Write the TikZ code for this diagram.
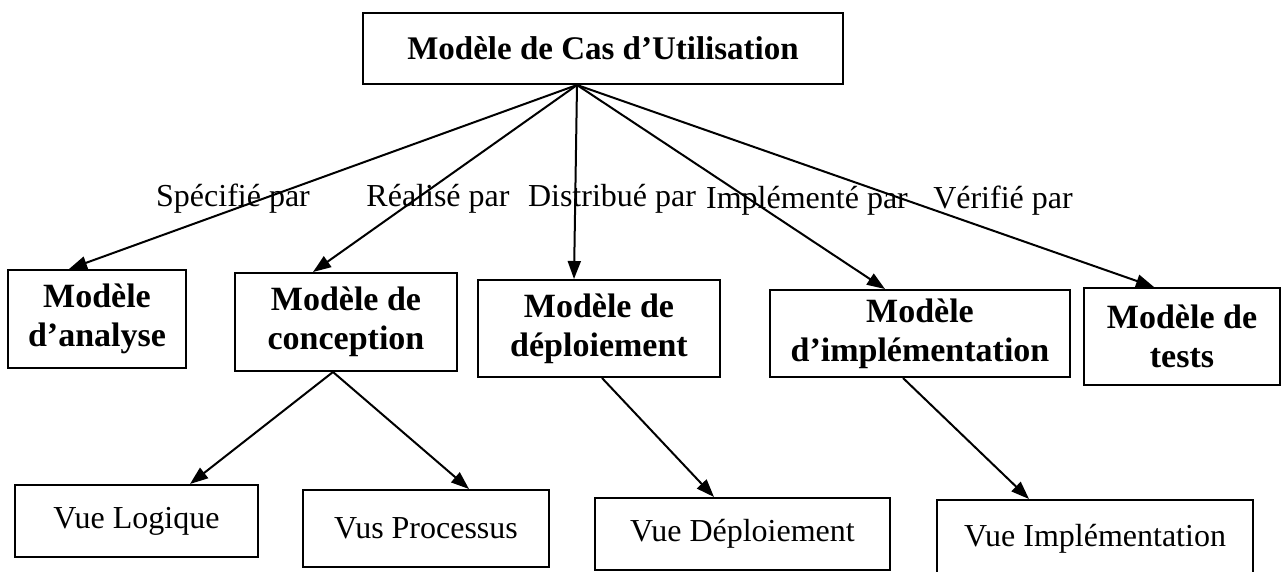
\documentclass[tikz,border=0pt]{standalone}
\usepackage{fontspec}
\setmainfont{Liberation Serif}
\usetikzlibrary{arrows.meta}
\tikzset{
  box/.style={draw, line width=2pt, align=center, inner sep=0pt},
  topbox/.style={box, font=\fontsize{33}{36}\selectfont\bfseries},
  modelbox/.style={box, font=\fontsize{34}{39}\selectfont\bfseries},
  viewbox/.style={box, font=\fontsize{32}{36}\selectfont},
  link/.style={line width=2pt, -{Triangle[length=18pt,width=13pt]}},
  lbl/.style={font=\fontsize{32}{36}\selectfont, inner sep=0pt, anchor=base},
}
\begin{document}
\begin{tikzpicture}[x=1pt,y=-1pt]
\useasboundingbox (0,0) rectangle (1284,572);

% root
\node[topbox, minimum width=480pt, minimum height=71pt] (uc) at (603,48.5) {Modèle de Cas d'Utilisation};
\coordinate (apex) at (uc.south -| 577,0);

% models
\node[modelbox, minimum width=178pt, minimum height=98pt] (an) at (97,319) {Modèle\\d'analyse};
\node[modelbox, minimum width=222pt, minimum height=98pt] (co) at (346,322) {Modèle de\\conception};
\node[modelbox, minimum width=242pt, minimum height=97pt] (de) at (599,328.5) {Modèle de\\déploiement};
\node[modelbox, minimum width=300pt, minimum height=87pt] (im) at (920,333.5) {Modèle\\d'implémentation};
\node[modelbox, minimum width=196pt, minimum height=97pt] (te) at (1182,336.5) {Modèle de\\tests};

% views
\node[viewbox, minimum width=243pt, minimum height=72pt] (vl) at (136.5,521) {Vue Logique};
\node[viewbox, minimum width=246pt, minimum height=77pt] (vp) at (426,528.5) {Vus Processus};
\node[viewbox, minimum width=295pt, minimum height=72pt] (vd) at (742.5,534) {Vue Déploiement};
\node[viewbox, minimum width=316pt, minimum height=78pt] (vi) at (1095,539) {Vue Implémentation};

% links from the use-case model
\draw[link] (apex) -- (an.north -| 69,0);
\draw[link] (apex) -- (co.north -| 313,0);
\draw[link] (apex) -- (de.north -| 574,0);
\draw[link] (apex) -- (im.north -| 885,0);
\draw[link] (apex) -- (te.north -| 1154,0);

% links to the views
\coordinate (cob) at (co.south -| 333,0);
\draw[link] (cob) -- (vl.north -| 190,0);
\draw[link] (cob) -- (vp.north -| 469,0);
\draw[link] (de.south -| 602,0) -- (vd.north -| 714,0);
\draw[link] (im.south -| 903,0) -- (vi.north -| 1029,0);

% link labels
\node[lbl] (l1) at (233,207) {Spécifié par};
\node[lbl] (l2) at (438,207) {Réalisé par};
\node[lbl] (l3) at (612,207) {Distribué par};
\node[lbl] (l4) at (807,208) {Implémenté par};
\node[lbl] (l5) at (1003,208) {Vérifié par};
\end{tikzpicture}
\end{document}
